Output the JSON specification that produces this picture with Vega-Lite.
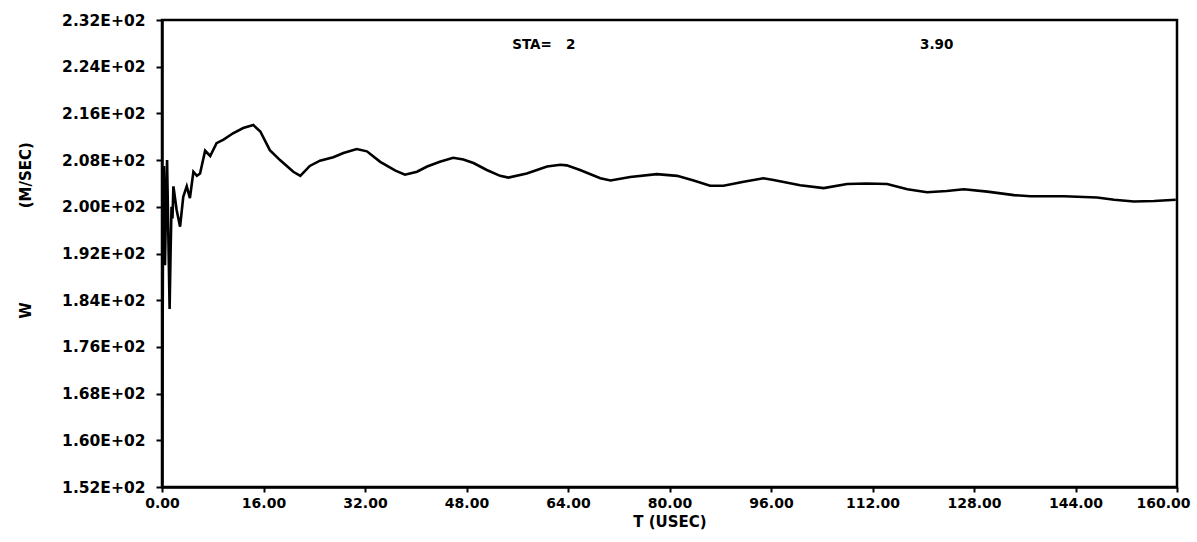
{
  "$schema": "https://vega.github.io/schema/vega-lite/v6.json",
  "width": 1015,
  "height": 467,
  "autosize": "none",
  "padding": {"left": 162, "top": 20, "right": 20, "bottom": 55},
  "background": "white",
  "config": {
    "view": {"stroke": "black", "strokeWidth": 2.5},
    "font": "DejaVu Sans",
    "axis": {
      "grid": false,
      "domainColor": "black",
      "domainWidth": 2.5,
      "tickColor": "black",
      "tickWidth": 2,
      "labelColor": "black",
      "titleColor": "black",
      "labelFont": "DejaVu Sans",
      "titleFont": "DejaVu Sans",
      "labelFontWeight": "bold",
      "titleFontWeight": "bold",
      "labelFontSize": 14,
      "titleFontSize": 15
    }
  },
  "datasets": {
    "curve": [
      {"t": 0.0, "w": 152.5},
      {"t": 0.16, "w": 195},
      {"t": 0.3, "w": 207},
      {"t": 0.47, "w": 190},
      {"t": 0.63, "w": 200},
      {"t": 0.8, "w": 208},
      {"t": 1.0, "w": 195},
      {"t": 1.2, "w": 182.5},
      {"t": 1.35, "w": 192},
      {"t": 1.5, "w": 200},
      {"t": 1.65, "w": 198},
      {"t": 1.8, "w": 203.5},
      {"t": 2.3, "w": 199.5},
      {"t": 2.85, "w": 196.6},
      {"t": 3.35, "w": 201.7},
      {"t": 3.9, "w": 203.5},
      {"t": 4.4, "w": 201.5},
      {"t": 4.95, "w": 206.0},
      {"t": 5.5, "w": 205.3},
      {"t": 6.0, "w": 205.7},
      {"t": 6.8, "w": 209.6},
      {"t": 7.6, "w": 208.7},
      {"t": 8.6, "w": 210.9},
      {"t": 9.7, "w": 211.5},
      {"t": 11.2, "w": 212.6},
      {"t": 12.8, "w": 213.5},
      {"t": 14.4, "w": 214.0},
      {"t": 15.5, "w": 212.9},
      {"t": 17.0, "w": 209.7},
      {"t": 18.6, "w": 208.0},
      {"t": 20.7, "w": 206.0},
      {"t": 21.8, "w": 205.3},
      {"t": 23.3, "w": 207.0},
      {"t": 24.9, "w": 207.9},
      {"t": 27.0, "w": 208.5},
      {"t": 28.6, "w": 209.2},
      {"t": 30.7, "w": 209.9},
      {"t": 32.3, "w": 209.5},
      {"t": 34.4, "w": 207.7},
      {"t": 36.8, "w": 206.2},
      {"t": 38.3, "w": 205.5},
      {"t": 40.2, "w": 206.0},
      {"t": 41.8, "w": 206.9},
      {"t": 43.8, "w": 207.7},
      {"t": 45.9, "w": 208.4},
      {"t": 47.5, "w": 208.1},
      {"t": 49.1, "w": 207.5},
      {"t": 51.2, "w": 206.3},
      {"t": 53.3, "w": 205.3},
      {"t": 54.6, "w": 205.0},
      {"t": 57.5, "w": 205.7},
      {"t": 60.7, "w": 206.9},
      {"t": 62.8, "w": 207.2},
      {"t": 63.8, "w": 207.1},
      {"t": 65.9, "w": 206.3},
      {"t": 69.1, "w": 204.9},
      {"t": 70.7, "w": 204.5},
      {"t": 73.8, "w": 205.1},
      {"t": 78.0, "w": 205.6},
      {"t": 81.2, "w": 205.3},
      {"t": 83.8, "w": 204.5},
      {"t": 86.4, "w": 203.6},
      {"t": 88.5, "w": 203.6},
      {"t": 91.7, "w": 204.3},
      {"t": 94.8, "w": 204.9},
      {"t": 96.4, "w": 204.6},
      {"t": 100.6, "w": 203.7},
      {"t": 104.3, "w": 203.2},
      {"t": 108.0, "w": 203.9},
      {"t": 111.1, "w": 204.0},
      {"t": 114.3, "w": 203.9},
      {"t": 117.5, "w": 203.0},
      {"t": 120.6, "w": 202.5},
      {"t": 123.7, "w": 202.7},
      {"t": 126.4, "w": 203.0},
      {"t": 130.1, "w": 202.6},
      {"t": 134.3, "w": 202.0},
      {"t": 136.9, "w": 201.8},
      {"t": 142.2, "w": 201.8},
      {"t": 147.4, "w": 201.6},
      {"t": 150.1, "w": 201.2},
      {"t": 153.2, "w": 200.9},
      {"t": 156.4, "w": 201.0},
      {"t": 159.8, "w": 201.2}
    ],
    "notes": [
      {"t": 55.2, "w": 227.7, "label": "STA=\u00a0\u00a0\u00a02"},
      {"t": 119.5, "w": 227.7, "label": "3.90"}
    ]
  },
  "layer": [
    {
      "data": {"name": "curve"},
      "mark": {"type": "line", "color": "black", "strokeWidth": 2.6, "clip": true, "interpolate": "linear"},
      "encoding": {
        "x": {
          "field": "t",
          "type": "quantitative",
          "scale": {"domain": [0, 160], "nice": false, "zero": false},
          "axis": {
            "values": [0, 16, 32, 48, 64, 80, 96, 112, 128, 144, 160],
            "format": ".2f",
            "title": "T (USEC)",
            "tickSize": 5,
            "labelPadding": 4,
            "titlePadding": 4,
            "labelFlush": false,
            "labelOffset": {"condition": {"test": "datum.value == 160", "value": -14}, "value": 0}
          }
        },
        "y": {
          "field": "w",
          "type": "quantitative",
          "scale": {"domain": [152, 232], "nice": false, "zero": false},
          "axis": {
            "values": [152, 160, 168, 176, 184, 192, 200, 208, 216, 224, 232],
            "labelExpr": "replace(format(datum.value, '.2e'), 'e+', 'E+0')",
            "tickSize": 6,
            "labelPadding": 11,
            "labelFontSize": 15.5,
            "title": "W\u00a0\u00a0\u00a0\u00a0\u00a0\u00a0\u00a0\u00a0\u00a0\u00a0\u00a0\u00a0\u00a0\u00a0\u00a0\u00a0\u00a0\u00a0(M/SEC)",
            "titleAngle": 270,
            "titleX": -137,
            "titleY": 210,
            "titleAlign": "center",
            "titleBaseline": "middle"
          }
        }
      }
    },
    {
      "data": {"name": "notes"},
      "mark": {"type": "text", "align": "left", "baseline": "middle", "font": "DejaVu Sans", "fontWeight": "bold", "fontSize": 13.5, "color": "black"},
      "encoding": {
        "x": {"field": "t", "type": "quantitative"},
        "y": {"field": "w", "type": "quantitative"},
        "text": {"field": "label"}
      }
    }
  ]
}
